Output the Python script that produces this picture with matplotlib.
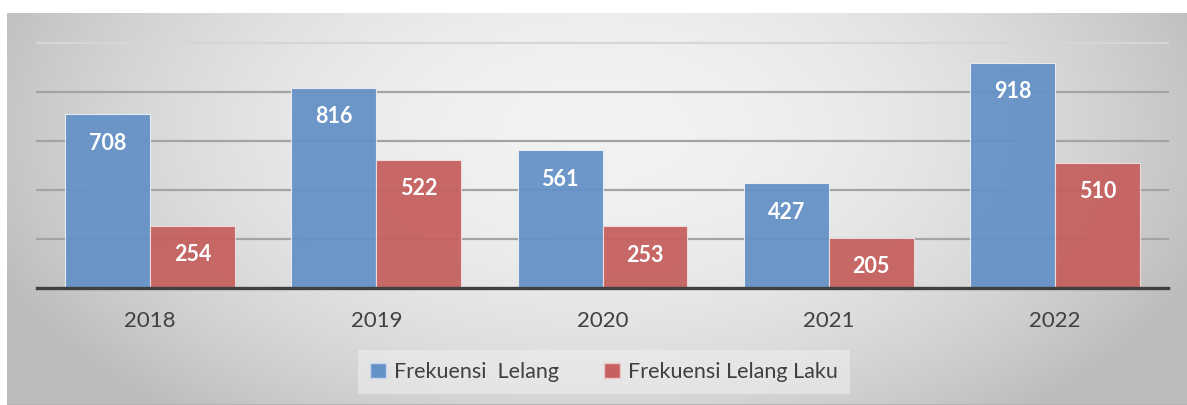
import numpy as np
import matplotlib.pyplot as plt
from matplotlib.patches import Patch

# data
years = ['2018', '2019', '2020', '2021', '2022']
lelang = [708, 816, 561, 427, 918]
lelang_laku = [254, 522, 253, 205, 510]
grid_values = [200, 400, 600, 800, 1000]

blue = '#6592c6'
red = '#c5615f'
text_col = '#404040'

W, H = 1187, 405
fig = plt.figure(figsize=(W / 100, H / 100), dpi=100)
fig.patch.set_facecolor('white')

# gradient background of the chart area
bg = fig.add_axes([7 / W, 0, 1 - 7 / W, (H - 13) / H])
ny, nx = 200, 600
yy, xx = np.mgrid[0:1:ny * 1j, 0:1:nx * 1j]
r = np.sqrt(((xx - 0.5) / 0.55) ** 2 + ((yy - 0.3) / 0.95) ** 2)
v = np.clip(0.95 - 0.21 * r ** 2, 0.74, 0.95)
bg.imshow(np.dstack([v, v, v]), aspect='auto', extent=[0, 1, 1, 0], interpolation='bilinear')
bg.axhline(1, color='#b4b4b4', lw=1.5)
bg.set_xlim(0, 1)
bg.set_ylim(1, 0)
bg.axis('off')

# main plot area
base_y = 288.3
top_y = 42.5
ax = fig.add_axes([37 / W, (H - base_y) / H, (1168 - 37) / W, (base_y - top_y) / H])
ax.patch.set_alpha(0)

x = np.arange(len(years))
w = 0.375

for g in grid_values:
    col = '#d6d6d6' if g == 1000 else '#a4a4a4'
    ax.axhline(g, color=col, lw=1.6, zorder=1, clip_on=False)

b1 = ax.bar(x - w / 2, lelang, w, color=blue, edgecolor='#e8eef7', linewidth=0.8, alpha=0.95, zorder=2)
b2 = ax.bar(x + w / 2, lelang_laku, w, color=red, edgecolor='#f2dcdc', linewidth=0.8, alpha=0.95, zorder=2)

for bars, vals in [(b1, lelang), (b2, lelang_laku)]:
    for rect, val in zip(bars, vals):
        ax.annotate(str(val), (rect.get_x() + rect.get_width() / 2, val),
                    xytext=(0, -29), textcoords='offset pixels',
                    ha='center', va='center', color='white',
                    fontsize=15.5, fontweight='bold', family='Lato', zorder=3)

ax.axhline(0, color='#404040', lw=2.4, zorder=4, clip_on=False)

ax.set_xlim(-0.5, len(years) - 0.5)
ax.set_ylim(0, 1000)
ax.set_xticks(x)
ax.set_xticklabels(years, fontsize=16, color=text_col, family='Lato')
ax.tick_params(axis='x', length=0, pad=16)
ax.set_yticks([])
for s in ax.spines.values():
    s.set_visible(False)

handles = [Patch(facecolor=blue, edgecolor='#c8d6ea', label='Frekuensi  Lelang'),
           Patch(facecolor=red, edgecolor='#eac8c8', label='Frekuensi Lelang Laku')]
leg = fig.legend(handles=handles, loc='center', bbox_to_anchor=(604 / W, 1 - 372 / H),
                 ncol=2, frameon=True, fancybox=False, facecolor='#f0f0f0', edgecolor='none',
                 framealpha=0.55, handlelength=0.75, handleheight=0.75, handletextpad=0.35,
                 columnspacing=2.1, borderpad=0.55, borderaxespad=0,
                 prop={'family': 'Lato', 'size': 15.5})
for t in leg.get_texts():
    t.set_color(text_col)

fig.savefig('out.png', dpi=100)
